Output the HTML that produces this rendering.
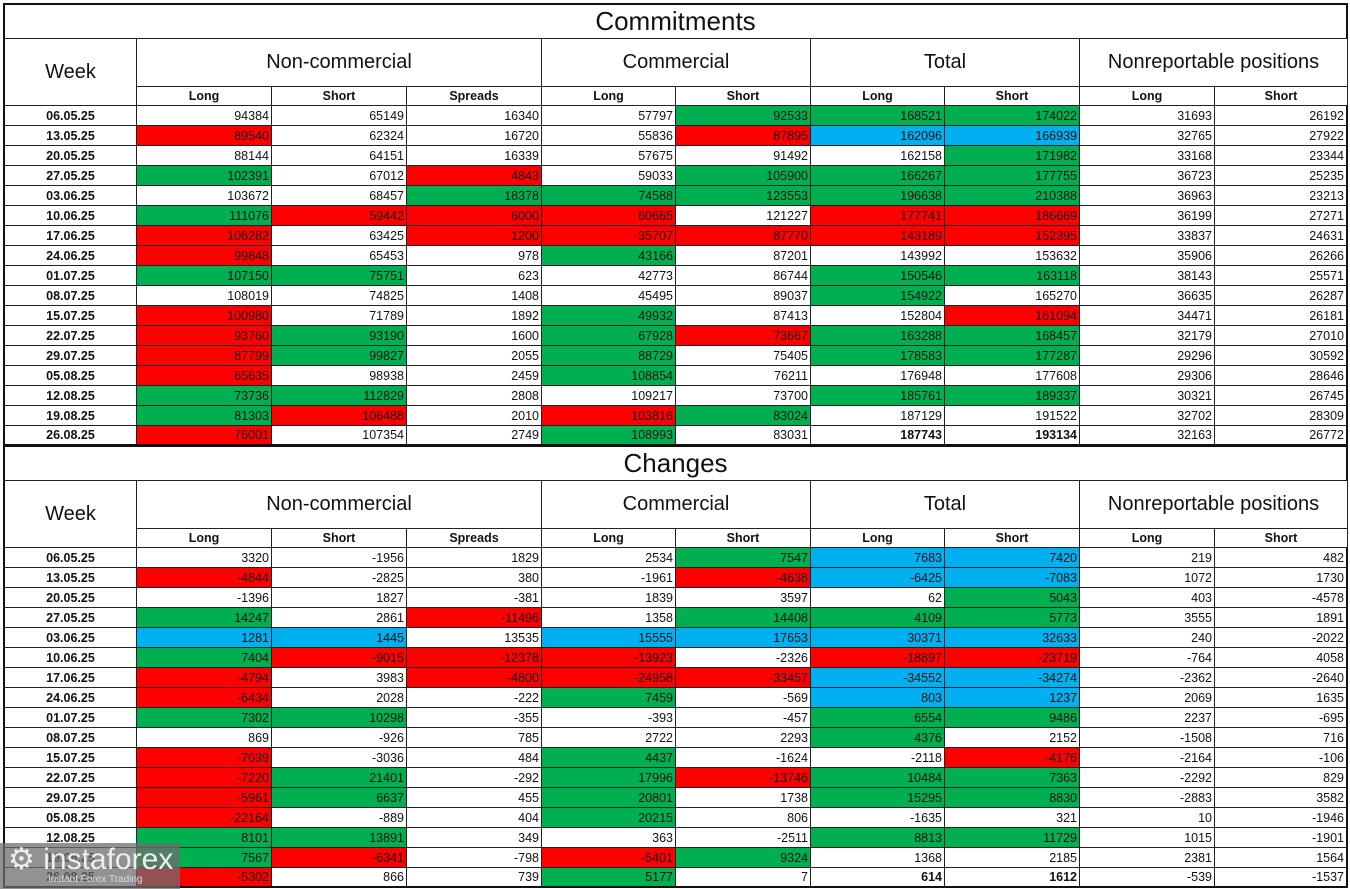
<!DOCTYPE html>
<html><head><meta charset="utf-8"><style>
body{margin:0;background:#fff;width:1350px;height:889px;overflow:hidden;font-family:"Liberation Sans",sans-serif;}
#root{position:relative;width:1350px;height:889px;}
.c{position:absolute;box-sizing:border-box;border-right:1px solid #222;border-bottom:1px solid #222;display:flex;align-items:center;color:#111;white-space:nowrap;overflow:hidden}
.v{justify-content:flex-end;padding-right:2px;font-size:12.5px}
.h{justify-content:center}
.g{background:#00b050}.r{background:#ff0000}.b{background:#00b0f0}
#logo{position:absolute;left:0;top:843px;width:180px;height:46px;background:rgba(110,110,110,0.75);color:#eee;font-size:30px;line-height:34px;padding-left:8px;box-sizing:border-box}
#logo small{position:absolute;left:48px;top:31px;font-size:10px;line-height:12px;color:#ddd}
</style></head><body><div id="root"></div>
<div id="logo">⚙ instaforex<small>Instant Forex Trading</small></div>
<script>
const weeks=["06.05.25","13.05.25","20.05.25","27.05.25","03.06.25","10.06.25","17.06.25","24.06.25","01.07.25","08.07.25","15.07.25","22.07.25","29.07.25","05.08.25","12.08.25","19.08.25","26.08.25"];
const commitments=[
"94384,65149,16340,57797,92533g,168521g,174022g,31693,26192",
"89540r,62324,16720,55836,87895r,162096b,166939b,32765,27922",
"88144,64151,16339,57675,91492,162158,171982g,33168,23344",
"102391g,67012,4843r,59033,105900g,166267g,177755g,36723,25235",
"103672,68457,18378g,74588g,123553g,196638g,210388g,36963,23213",
"111076g,59442r,6000r,60665r,121227,177741r,186669r,36199,27271",
"106282r,63425,1200r,35707r,87770r,143189r,152395r,33837,24631",
"99848r,65453,978,43166g,87201,143992,153632,35906,26266",
"107150g,75751g,623,42773,86744,150546g,163118g,38143,25571",
"108019,74825,1408,45495,89037,154922g,165270,36635,26287",
"100980r,71789,1892,49932g,87413,152804,161094r,34471,26181",
"93760r,93190g,1600,67928g,73667r,163288g,168457g,32179,27010",
"87799r,99827g,2055,88729g,75405,178583g,177287g,29296,30592",
"65635r,98938,2459,108854g,76211,176948,177608,29306,28646",
"73736g,112829g,2808,109217,73700,185761g,189337g,30321,26745",
"81303g,106488r,2010,103816r,83024g,187129,191522,32702,28309",
"76001r,107354,2749,108993g,83031,187743B,193134B,32163,26772"];
const changes=[
"3320,-1956,1829,2534,7547g,7683b,7420b,219,482",
"-4844r,-2825,380,-1961,-4638r,-6425b,-7083b,1072,1730",
"-1396,1827,-381,1839,3597,62,5043g,403,-4578",
"14247g,2861,-11496r,1358,14408g,4109g,5773g,3555,1891",
"1281b,1445b,13535,15555b,17653b,30371b,32633b,240,-2022",
"7404g,-9015r,-12378r,-13923r,-2326,-18897r,-23719r,-764,4058",
"-4794r,3983,-4800r,-24958r,-33457r,-34552b,-34274b,-2362,-2640",
"-6434r,2028,-222,7459g,-569,803b,1237b,2069,1635",
"7302g,10298g,-355,-393,-457,6554g,9486g,2237,-695",
"869,-926,785,2722,2293,4376g,2152,-1508,716",
"-7039r,-3036,484,4437g,-1624,-2118,-4176r,-2164,-106",
"-7220r,21401g,-292,17996g,-13746r,10484g,7363g,-2292,829",
"-5961r,6637g,455,20801g,1738,15295g,8830g,-2883,3582",
"-22164r,-889,404,20215g,806,-1635,321,10,-1946",
"8101g,13891g,349,363,-2511,8813g,11729g,1015,-1901",
"7567g,-6341r,-798,-5401r,9324g,1368,2185,2381,1564",
"-5302r,866,739,5177g,7,614B,1612B,-539,-1537"];
const xs=[3,137,272,407,542,676,811,945,1080,1215,1348];
const groups=[["Non-commercial",1,4],["Commercial",4,6],["Total",6,8],["Nonreportable positions",8,10]];
const subs=["Long","Short","Spreads","Long","Short","Long","Short","Long","Short"];
const root=document.getElementById('root');
function cell(x,y,w,h,txt,cls,style,name){const d=document.createElement('div');d.className='c '+cls;d.style.cssText=`left:${x}px;top:${y}px;width:${w}px;height:${h}px;`+(style||'');d.textContent=txt;


root.appendChild(d);return d;}
function section(top,title,data,key){
 cell(3,top,1345,36,title,'h','font-size:26px;border-left:2px solid #111;border-top:2px solid #111;border-right:2px solid #111;',key+'-title');
 const hy=top+36;
 cell(3,hy,134,67,'Week','h','font-size:20px;border-left:2px solid #111;',key+'-week-header');
 groups.forEach(g=>cell(xs[g[1]],hy,xs[g[2]]-xs[g[1]],48,g[0],'h','font-size:20px;',key+'-group-header'));
 subs.forEach((s,i)=>cell(xs[i+1],hy+48,xs[i+2]-xs[i+1],19,s,'h','font-size:12.5px;font-weight:bold;',key+'-sub-header'));
 const ry=hy+67;
 weeks.forEach((w,r)=>{
  const y=ry+r*20;
  cell(3,y,134,20,w,'h','font-size:12.5px;font-weight:bold;border-left:2px solid #111;'+(r==16?'border-bottom:2px solid #111;':''),key+'-week-cell');
  data[r].split(',').forEach((v,i)=>{
   let cls='v',st='';const m=v.match(/[grbB]$/);
   if(m){v=v.slice(0,-1);if(m[0]=='B')st+='font-weight:bold;';else cls+=' '+m[0];}
   if(i==8)st+='border-right:2px solid #111;';
   if(r==16)st+='border-bottom:2px solid #111;';
   cell(xs[i+1],y,xs[i+2]-xs[i+1],20,v,cls,st,key+'-value-cell');
  });
 });
}
section(3,'Commitments',commitments,'commitments');
section(445,'Changes',changes,'changes');
</script></body></html>
